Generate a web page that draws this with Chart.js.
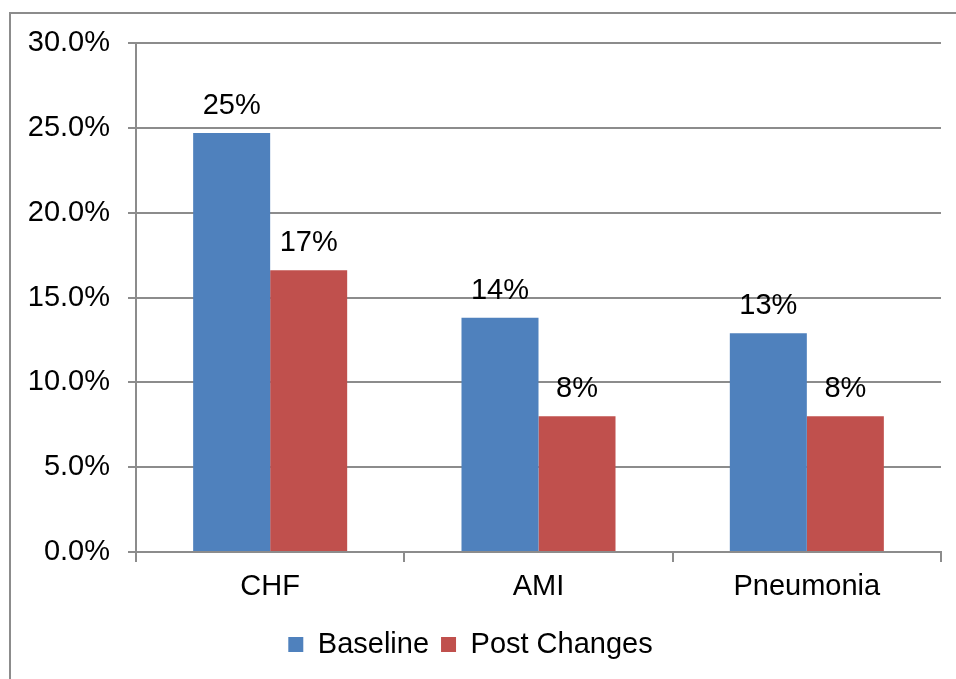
<!DOCTYPE html>
<html>
<head>
<meta charset="utf-8">
<script src="https://cdn.jsdelivr.net/npm/chart.js@4"></script>
<style>
  html, body { margin: 0; padding: 0; background: #fff; }
  #wrap { width: 956px; height: 679px; position: relative; }
</style>
</head>
<body>
<div id="wrap"><canvas id="chart"></canvas></div>
<script>
// Data
const categories = ["CHF", "AMI", "Pneumonia"];
const baseline = [24.7, 13.8, 12.9];
const postChanges = [16.6, 8.0, 8.0];
const yTicks = { min: 0, max: 30, step: 5 };

const FONT = "'Liberation Sans', Arial, sans-serif";
const FSIZE = 29;
const gridGray = "#8c8c8c";

// outer frame of the original chart (runs past the right and bottom edges)
const framePlugin = {
  id: "frame",
  beforeDraw(chart) {
    const ctx = chart.ctx;
    ctx.save();
    ctx.strokeStyle = gridGray;
    ctx.lineWidth = 2;
    ctx.strokeRect(10, 13, 2000, 2000);
    ctx.restore();
  },
};

// value labels above bars
const valueLabels = {
  id: "valueLabels",
  afterDatasetsDraw(chart) {
    const ctx = chart.ctx;
    ctx.save();
    ctx.font = FSIZE + "px " + FONT;
    ctx.fillStyle = "#000";
    ctx.textAlign = "center";
    ctx.textBaseline = "middle";
    chart.data.datasets.forEach((ds, i) => {
      chart.getDatasetMeta(i).data.forEach((bar, j) => {
        ctx.fillText(Math.round(ds.data[j]) + "%", bar.x, bar.y - 27);
      });
    });
    ctx.restore();
  },
};

new Chart(document.getElementById("chart"), {
  type: "bar",
  data: {
    labels: categories,
    datasets: [
      { label: "Baseline", data: baseline, backgroundColor: "#4f81bd" },
      { label: "Post Changes", data: postChanges, backgroundColor: "#c0504d" },
    ],
  },
  options: {
    responsive: true,
    maintainAspectRatio: false,
    animation: false,
    layout: { padding: { left: 0, top: 43, right: 15, bottom: 10 } },
    datasets: {
      bar: { categoryPercentage: 0.574, barPercentage: 1.0 },
    },
    plugins: {
      legend: {
        position: "bottom",
        labels: {
          boxWidth: 15,
          boxHeight: 15,
          padding: 12,
          color: "#000",
          font: { family: FONT, size: FSIZE },
        },
      },
      tooltip: { enabled: false },
    },
    scales: {
      x: {
        afterFit(scale) { scale.height = 66; },
        grid: {
          drawOnChartArea: false,
          drawTicks: true,
          tickLength: 10,
          color: gridGray,
          lineWidth: 2,
        },
        border: { color: gridGray, width: 2 },
        ticks: { color: "#000", padding: 8, font: { family: FONT, size: FSIZE } },
      },
      y: {
        min: yTicks.min,
        max: yTicks.max,
        afterFit(scale) { scale.width = 136; },
        grid: { color: gridGray, lineWidth: 2, tickLength: 8 },
        border: { color: gridGray, width: 2 },
        ticks: {
          stepSize: yTicks.step,
          color: "#000",
          padding: 18,
          font: { family: FONT, size: FSIZE },
          callback: (v) => v.toFixed(1) + "%",
        },
      },
    },
  },
  plugins: [framePlugin, valueLabels],
});
</script>
</body>
</html>
